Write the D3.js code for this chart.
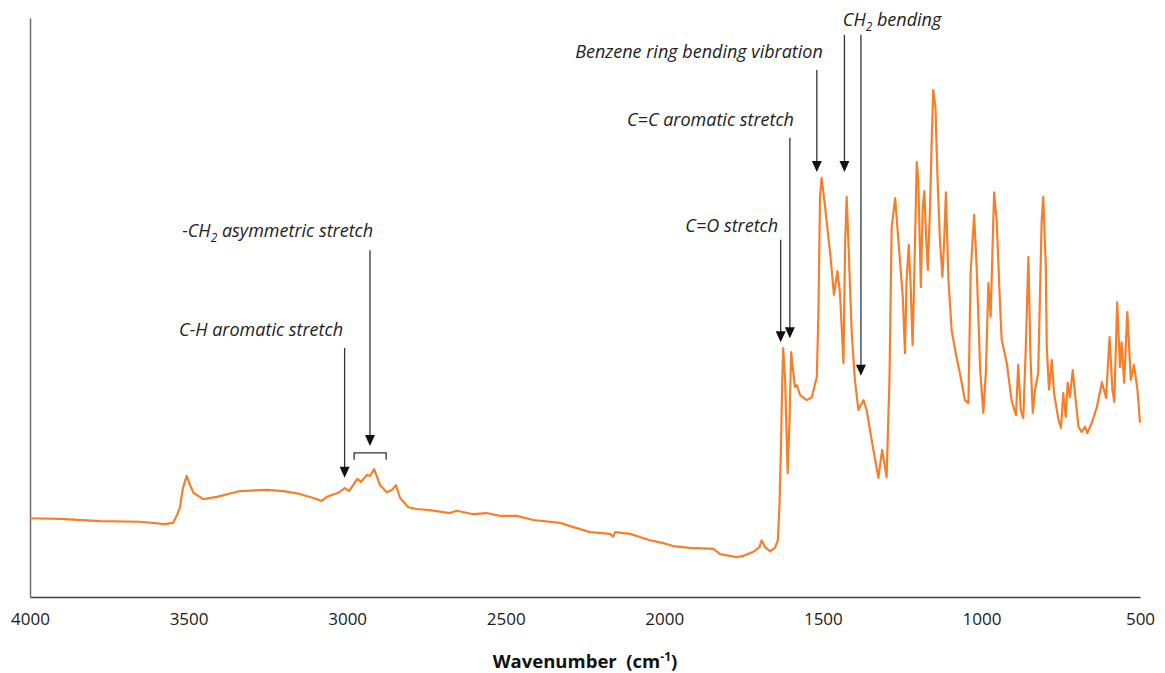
<!DOCTYPE html>
<html>
<head>
<meta charset="utf-8">
<script src="https://cdn.jsdelivr.net/npm/d3@7"></script>
<style>
  body { margin: 0; background: #fff; }
  svg text { font-family: "Open Sans", "Noto Sans", sans-serif; }
</style>
</head>
<body>
<svg id="chart" width="1165" height="673"></svg>
<script>
// ---- data ----
// wavenumber, cm-1
var wavenumbers = [4000, 3905, 3779, 3653, 3574, 3549, 3536, 3527, 3518, 3506, 3495, 3485, 3454, 3411,
  3338, 3254, 3201, 3149, 3107, 3080, 3064, 3028, 3007, 2994, 2968, 2956, 2938, 2928, 2915, 2896,
  2875, 2859, 2846, 2833, 2807, 2781, 2739, 2676, 2655, 2602, 2560, 2518, 2465, 2413, 2329, 2276,
  2234, 2171, 2161, 2155, 2108, 2045, 2003, 1972, 1919, 1845, 1824, 1772, 1751, 1719, 1700, 1693,
  1682, 1667, 1651, 1642, 1637, 1632, 1628, 1625, 1619, 1611, 1605, 1600, 1594, 1588, 1582, 1572,
  1551, 1535, 1519, 1514, 1509, 1504, 1493, 1477, 1465, 1454, 1446, 1435, 1430, 1425, 1420, 1409,
  1399, 1388, 1372, 1362, 1346, 1325, 1313, 1299, 1290, 1283, 1272, 1262, 1248, 1241, 1236, 1229,
  1223, 1217, 1212, 1204, 1199, 1191, 1185, 1180, 1175, 1169, 1162, 1157, 1152, 1145, 1139, 1131,
  1123, 1117, 1112, 1104, 1094, 1080, 1068, 1052, 1041, 1034, 1023, 1015, 1004, 994, 986, 978,
  971, 960, 952, 941, 936, 920, 905, 891, 884, 876, 868, 860, 852, 845, 838, 831, 821, 810, 805,
  797, 794, 787, 778, 771, 757, 749, 742, 734, 728, 721, 712, 705, 694, 684, 673, 666, 652, 636,
  620, 607, 596, 587, 581, 572, 563, 558, 550, 540, 529, 519, 508, 500];
// signal, arbitrary units (no y scale shown)
var signal = [13.6, 13.5, 13.1, 13.0, 12.6, 12.8, 14.2, 15.5, 18.8, 20.9, 19.3, 18.0, 16.9, 17.3,
  18.3, 18.5, 18.3, 17.8, 17.1, 16.6, 17.3, 18.0, 18.8, 18.3, 20.4, 19.9, 21.1, 20.9, 22.1, 19.3,
  18.1, 18.5, 19.3, 17.1, 15.5, 15.2, 15.0, 14.5, 14.9, 14.3, 14.5, 14.0, 14.0, 13.3, 12.8, 11.9,
  11.2, 10.9, 10.4, 11.2, 10.9, 9.8, 9.3, 8.8, 8.5, 8.3, 7.4, 6.9, 7.1, 7.8, 8.6, 9.8,
  8.6, 7.9, 8.5, 9.8, 15.5, 25.9, 37.5, 43.0, 37.5, 21.4, 30.6, 42.3, 39.2, 36.3, 36.6, 34.9,
  34.0, 34.5, 38.0, 49.1, 69.1, 72.4, 67.4, 59.4, 52.2, 56.3, 52.5, 40.4, 60.4, 69.1, 62.2, 45.6,
  37.5, 32.3, 34.0, 32.3, 27.1, 20.6, 25.4, 20.7, 37.5, 63.9, 68.9, 61.7, 51.8, 42.1, 54.7, 60.8,
  53.5, 43.5, 54.7, 75.1, 72.0, 53.5, 67.4, 70.1, 62.9, 56.5, 67.4, 78.4, 87.6, 84.6, 73.2, 61.7,
  55.3, 62.2, 69.9, 54.7, 46.1, 41.8, 38.7, 34.0, 33.5, 56.0, 66.0, 57.0, 39.2, 31.8, 38.7, 54.2,
  48.4, 69.9, 65.1, 50.1, 44.4, 40.4, 34.0, 31.4, 40.1, 32.3, 30.9, 43.2, 58.7, 40.9, 31.8, 35.8, 38.7, 65.1, 69.1,
  57.0, 43.2, 35.8, 40.9, 35.2, 30.6, 29.2, 35.2, 31.1, 37.0, 34.5, 39.2, 35.2, 29.4, 28.5, 29.4, 28.3, 30.1, 32.8,
  37.1, 34.4, 44.9, 35.8, 33.7, 50.9, 39.7, 44.0, 37.0, 49.2, 37.5, 40.1, 35.8, 30.1];

var xTicks = [4000, 3500, 3000, 2500, 2000, 1500, 1000, 500];

// band assignments: label, arrow wavenumber, arrow start / tip (signal units), label end wavenumber, label baseline
var bandLabels   = ['C-H aromatic stretch', '-CH|2| asymmetric stretch', 'C=O stretch', 'C=C aromatic stretch',
                    'Benzene ring bending vibration', 'CH|2| bending'];
var bandTextWn   = [3013, 2918, 1641, 1591, 1500, 1437];
var bandTextY    = [45.1, 62.2, 63.0, 81.3, 93.1, 98.6];
var bandArrowWn  = [[3008], [2928], [1633], [1604], [1519], [1432, 1380]];
var bandArrowTop = [[43.0], [59.9], [61.7], [79.3], [91.0], [97.1, 97.1]];
var bandArrowTip = [[20.6], [26.1], [44.0], [44.7], [73.4], [73.4, 38.2]];
// bracket over the CH2 asymmetric doublet
var bracketWn = [2978, 2877];
var bracketY = [24.9, 23.7];

// ---- drawing ----
var svg = d3.select('#chart');
var margin = {left: 30, right: 25, top: 18, bottom: 76};
var W = 1165, H = 673;

var x = d3.scaleLinear().domain([4000, 500]).range([margin.left, W - margin.right]);
var y = d3.scaleLinear().domain([0, 100]).range([H - margin.bottom, margin.top]);

var spectrum = wavenumbers.map(function (w, i) { return [w, signal[i]]; });

// axes
var xAxis = d3.axisBottom(x).tickValues(xTicks).tickSize(0).tickSizeOuter(0).tickPadding(16)
  .tickFormat(d3.format('d'));
var gx = svg.append('g').attr('transform', 'translate(0,' + y(0) + ')').call(xAxis);
gx.select('.domain').attr('stroke', '#3f3f3f').attr('stroke-width', 1.3);
gx.selectAll('text').attr('fill', '#1a1a1a').style('font-size', '17px');

var gy = svg.append('g').attr('transform', 'translate(' + x(4000) + ',0)')
  .call(d3.axisLeft(y).ticks(0).tickSize(0).tickSizeOuter(0));
gy.select('.domain').attr('stroke', '#6e6e6e').attr('stroke-width', 1.5);

// axis title
var title = svg.append('text')
  .attr('x', (x(4000) + x(500)) / 2).attr('y', 668)
  .attr('text-anchor', 'middle')
  .style('white-space', 'pre')
  .style('font-size', '18.5px').style('font-weight', 'bold').attr('fill', '#111');
title.append('tspan').text('Wavenumber  (cm');
title.append('tspan').attr('dy', -7).style('font-size', '12px').text('-1');
title.append('tspan').attr('dy', 7).text(')');

// spectrum line
svg.append('path')
  .datum(spectrum)
  .attr('fill', 'none')
  .attr('stroke', '#f5802b')
  .attr('stroke-width', 2.2)
  .attr('stroke-linejoin', 'round')
  .attr('d', d3.line().x(function (d) { return x(d[0]); }).y(function (d) { return y(d[1]); }));

// annotations
var ann = svg.append('g').attr('class', 'annotations');

bandLabels.forEach(function (lab, i) {
  var t = ann.append('text')
    .attr('x', x(bandTextWn[i])).attr('y', y(bandTextY[i]))
    .attr('text-anchor', i === 5 ? 'start' : 'end')
    .style('font-size', '18px').style('font-style', 'italic').attr('fill', '#222');
  lab.split('|').forEach(function (part, j) {
    if (j % 2 === 1) {
      t.append('tspan').attr('dy', 5).style('font-size', '12px').text(part);
    } else {
      t.append('tspan').attr('dy', j === 0 ? 0 : -5).text(part);
    }
  });

  bandArrowWn[i].forEach(function (w, k) {
    var ax = x(w), y1 = y(bandArrowTop[i][k]), y2 = y(bandArrowTip[i][k]);
    ann.append('line')
      .attr('x1', ax).attr('x2', ax).attr('y1', y1).attr('y2', y2 - 9)
      .attr('stroke', '#333').attr('stroke-width', 1.3);
    ann.append('path')
      .attr('d', 'M' + (ax - 5) + ',' + (y2 - 11) + 'L' + (ax + 5) + ',' + (y2 - 11) + 'L' + ax + ',' + y2 + 'Z')
      .attr('fill', '#111');
  });
});

// bracket
var bx1 = x(bracketWn[0]), bx2 = x(bracketWn[1]), by = y(bracketY[0]), by2 = y(bracketY[1]);
ann.append('path')
  .attr('d', 'M' + bx1 + ',' + by2 + 'L' + bx1 + ',' + by + 'L' + bx2 + ',' + by + 'L' + bx2 + ',' + by2)
  .attr('fill', 'none').attr('stroke', '#333').attr('stroke-width', 1.3);
</script>
</body>
</html>
